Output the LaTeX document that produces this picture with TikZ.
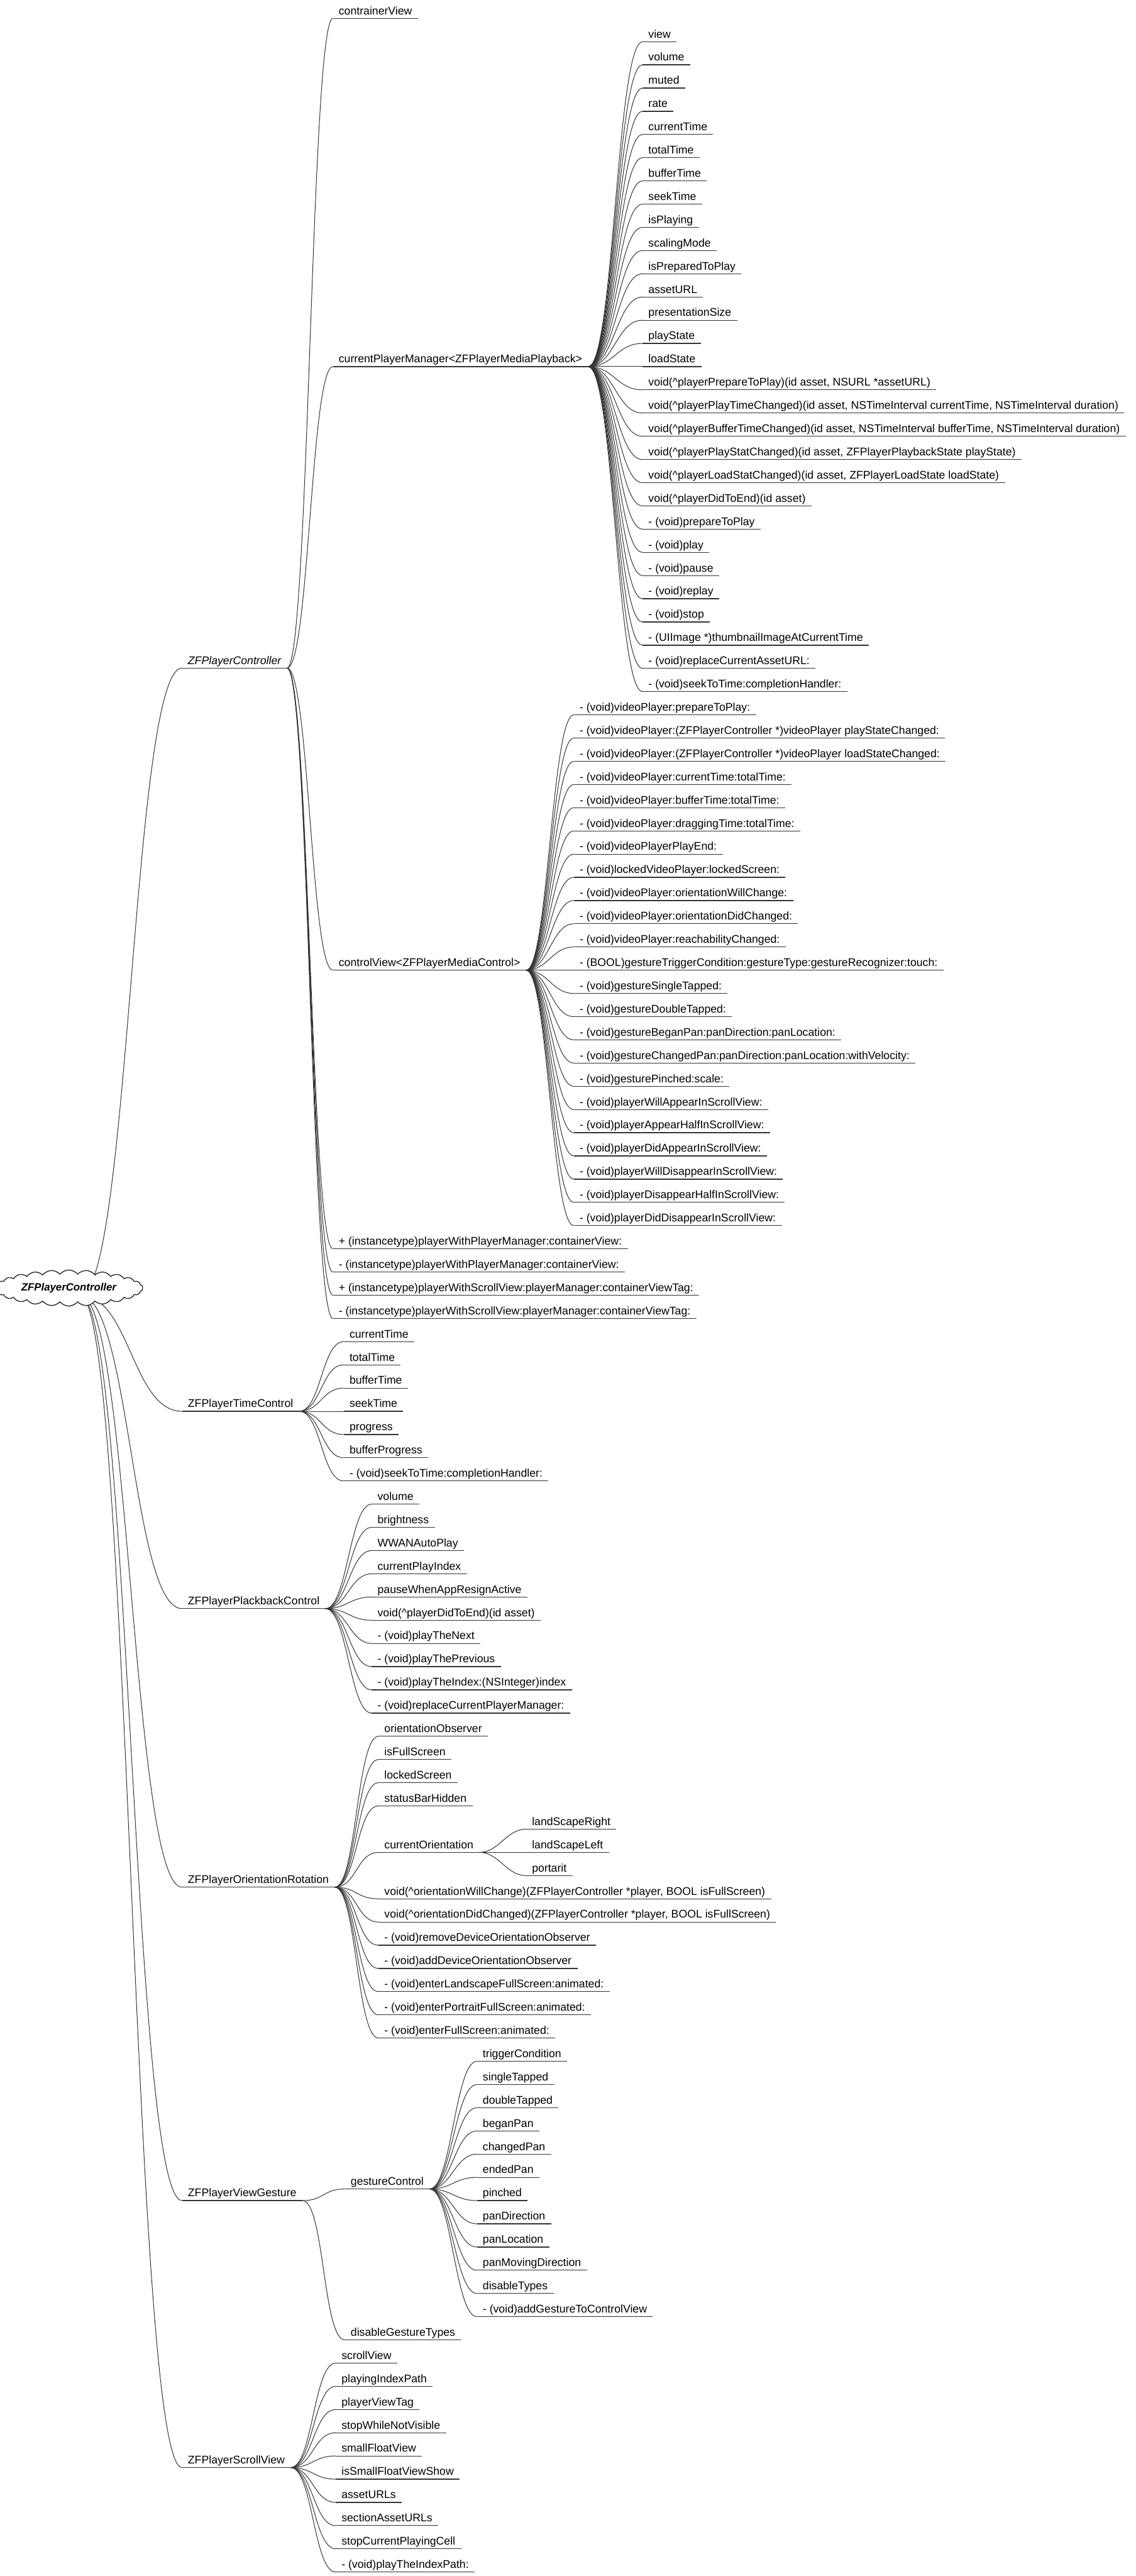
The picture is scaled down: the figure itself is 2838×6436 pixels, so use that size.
\documentclass[tikz,border=0pt]{standalone}
\usepackage{fontspec}
\setmainfont{Liberation Sans}
\usepackage{tikz}
\usetikzlibrary{shapes,positioning}

\begin{document}
\begin{tikzpicture}[
    x=0.01cm, y=-0.01cm,
    font=\fontsize{7.9}{9}\selectfont,
    leaf/.style={anchor=south west, inner xsep=0.14cm, inner ysep=0.09cm, text depth=0pt,
        append after command={(\tikzlastnode.south west) edge[uline] (\tikzlastnode.south east)}},
    uline/.style={draw=black!80, line width=0.55pt},
    twig/.style={draw=black!80, line width=0.45pt, to path={.. controls +(#1,0) and +(-#1,0) .. (\tikztotarget)}},
    twig/.default=55,
    root/.style={cloud, cloud puffs=26, cloud puff arc=100, cloud ignores aspect, draw=black!85, line width=0.6pt,
        fill=white, minimum width=3.25cm, minimum height=0.9cm, font=\fontsize{7.5}{9}\selectfont\bfseries\itshape}
]
    \useasboundingbox (0,0) rectangle (2838,6436);

    % first level
    \node[leaf, font=\fontsize{7.9}{9}\selectfont\itshape] (zfc) at (455,1669) {ZFPlayerController};
    \node[leaf] (timectl) at (455,3526) {ZFPlayerTimeControl};
    \node[leaf] (playback) at (455,4019) {ZFPlayerPlackbackControl};
    \node[leaf] (rotation) at (455,4715) {ZFPlayerOrientationRotation};
    \node[leaf] (gesture) at (455,5498) {ZFPlayerViewGesture};
    \node[leaf] (scroll) at (455,6165) {ZFPlayerScrollView};

    % ZFPlayerController
    \node[leaf] (container) at (832,46) {contrainerView};
    \node[leaf] (manager) at (832,916) {currentPlayerManager<ZFPlayerMediaPlayback>};
    \node[leaf] (control) at (832,2424) {controlView<ZFPlayerMediaControl>};
    \node[leaf] (init1) at (832,3120) {+ (instancetype)playerWithPlayerManager:containerView:};
    \node[leaf] (init2) at (832,3178) {- (instancetype)playerWithPlayerManager:containerView:};
    \node[leaf] (init3) at (832,3236) {+ (instancetype)playerWithScrollView:playerManager:containerViewTag:};
    \node[leaf] (init4) at (832,3294) {- (instancetype)playerWithScrollView:playerManager:containerViewTag:};

    % currentPlayerManager
    \node[leaf] (m1) at (1606,104) {view};
    \node[leaf] (m2) at (1606,162) {volume};
    \node[leaf] (m3) at (1606,220) {muted};
    \node[leaf] (m4) at (1606,278) {rate};
    \node[leaf] (m5) at (1606,336) {currentTime};
    \node[leaf] (m6) at (1606,394) {totalTime};
    \node[leaf] (m7) at (1606,452) {bufferTime};
    \node[leaf] (m8) at (1606,510) {seekTime};
    \node[leaf] (m9) at (1606,568) {isPlaying};
    \node[leaf] (m10) at (1606,626) {scalingMode};
    \node[leaf] (m11) at (1606,684) {isPreparedToPlay};
    \node[leaf] (m12) at (1606,742) {assetURL};
    \node[leaf] (m13) at (1606,800) {presentationSize};
    \node[leaf] (m14) at (1606,858) {playState};
    \node[leaf] (m15) at (1606,916) {loadState};
    \node[leaf] (m16) at (1606,974) {void(\textasciicircum playerPrepareToPlay)(id asset, NSURL *assetURL)};
    \node[leaf] (m17) at (1606,1032) {void(\textasciicircum playerPlayTimeChanged)(id asset, NSTimeInterval currentTime, NSTimeInterval duration)};
    \node[leaf] (m18) at (1606,1090) {void(\textasciicircum playerBufferTimeChanged)(id asset, NSTimeInterval bufferTime, NSTimeInterval duration)};
    \node[leaf] (m19) at (1606,1148) {void(\textasciicircum playerPlayStatChanged)(id asset, ZFPlayerPlaybackState playState)};
    \node[leaf] (m20) at (1606,1206) {void(\textasciicircum playerLoadStatChanged)(id asset, ZFPlayerLoadState loadState)};
    \node[leaf] (m21) at (1606,1264) {void(\textasciicircum playerDidToEnd)(id asset)};
    \node[leaf] (m22) at (1606,1322) {- (void)prepareToPlay};
    \node[leaf] (m23) at (1606,1380) {- (void)play};
    \node[leaf] (m24) at (1606,1438) {- (void)pause};
    \node[leaf] (m25) at (1606,1496) {- (void)replay};
    \node[leaf] (m26) at (1606,1554) {- (void)stop};
    \node[leaf] (m27) at (1606,1612) {- (UIImage *)thumbnailImageAtCurrentTime};
    \node[leaf] (m28) at (1606,1670) {- (void)replaceCurrentAssetURL:};
    \node[leaf] (m29) at (1606,1728) {- (void)seekToTime:completionHandler:};

    % controlView
    \node[leaf] (c1) at (1434,1786) {- (void)videoPlayer:prepareToPlay:};
    \node[leaf] (c2) at (1434,1844) {- (void)videoPlayer:(ZFPlayerController *)videoPlayer playStateChanged:};
    \node[leaf] (c3) at (1434,1902) {- (void)videoPlayer:(ZFPlayerController *)videoPlayer loadStateChanged:};
    \node[leaf] (c4) at (1434,1960) {- (void)videoPlayer:currentTime:totalTime:};
    \node[leaf] (c5) at (1434,2018) {- (void)videoPlayer:bufferTime:totalTime:};
    \node[leaf] (c6) at (1434,2076) {- (void)videoPlayer:draggingTime:totalTime:};
    \node[leaf] (c7) at (1434,2134) {- (void)videoPlayerPlayEnd:};
    \node[leaf] (c8) at (1434,2192) {- (void)lockedVideoPlayer:lockedScreen:};
    \node[leaf] (c9) at (1434,2250) {- (void)videoPlayer:orientationWillChange:};
    \node[leaf] (c10) at (1434,2308) {- (void)videoPlayer:orientationDidChanged:};
    \node[leaf] (c11) at (1434,2366) {- (void)videoPlayer:reachabilityChanged:};
    \node[leaf] (c12) at (1434,2424) {- (BOOL)gestureTriggerCondition:gestureType:gestureRecognizer:touch:};
    \node[leaf] (c13) at (1434,2482) {- (void)gestureSingleTapped:};
    \node[leaf] (c14) at (1434,2540) {- (void)gestureDoubleTapped:};
    \node[leaf] (c15) at (1434,2598) {- (void)gestureBeganPan:panDirection:panLocation:};
    \node[leaf] (c16) at (1434,2656) {- (void)gestureChangedPan:panDirection:panLocation:withVelocity:};
    \node[leaf] (c17) at (1434,2714) {- (void)gesturePinched:scale:};
    \node[leaf] (c18) at (1434,2772) {- (void)playerWillAppearInScrollView:};
    \node[leaf] (c19) at (1434,2830) {- (void)playerAppearHalfInScrollView:};
    \node[leaf] (c20) at (1434,2888) {- (void)playerDidAppearInScrollView:};
    \node[leaf] (c21) at (1434,2946) {- (void)playerWillDisappearInScrollView:};
    \node[leaf] (c22) at (1434,3004) {- (void)playerDisappearHalfInScrollView:};
    \node[leaf] (c23) at (1434,3062) {- (void)playerDidDisappearInScrollView:};

    % ZFPlayerTimeControl
    \node[leaf] (t1) at (859,3352) {currentTime};
    \node[leaf] (t2) at (859,3410) {totalTime};
    \node[leaf] (t3) at (859,3468) {bufferTime};
    \node[leaf] (t4) at (859,3526) {seekTime};
    \node[leaf] (t5) at (859,3584) {progress};
    \node[leaf] (t6) at (859,3642) {bufferProgress};
    \node[leaf] (t7) at (859,3700) {- (void)seekToTime:completionHandler:};

    % ZFPlayerPlackbackControl
    \node[leaf] (p1) at (929,3758) {volume};
    \node[leaf] (p2) at (929,3816) {brightness};
    \node[leaf] (p3) at (929,3874) {WWANAutoPlay};
    \node[leaf] (p4) at (929,3932) {currentPlayIndex};
    \node[leaf] (p5) at (929,3990) {pauseWhenAppResignActive};
    \node[leaf] (p6) at (929,4048) {void(\textasciicircum playerDidToEnd)(id asset)};
    \node[leaf] (p7) at (929,4106) {- (void)playTheNext};
    \node[leaf] (p8) at (929,4164) {- (void)playThePrevious};
    \node[leaf] (p9) at (929,4222) {- (void)playTheIndex:(NSInteger)index};
    \node[leaf] (p10) at (929,4280) {- (void)replaceCurrentPlayerManager:};

    % ZFPlayerOrientationRotation
    \node[leaf] (r1) at (946,4338) {orientationObserver};
    \node[leaf] (r2) at (946,4396) {isFullScreen};
    \node[leaf] (r3) at (946,4454) {lockedScreen};
    \node[leaf] (r4) at (946,4512) {statusBarHidden};
    \node[leaf] (orient) at (946,4628) {currentOrientation};
    \node[leaf] (r6) at (946,4744) {void(\textasciicircum orientationWillChange)(ZFPlayerController *player, BOOL isFullScreen)};
    \node[leaf] (r7) at (946,4802) {void(\textasciicircum orientationDidChanged)(ZFPlayerController *player, BOOL isFullScreen)};
    \node[leaf] (r8) at (946,4860) {- (void)removeDeviceOrientationObserver};
    \node[leaf] (r9) at (946,4918) {- (void)addDeviceOrientationObserver};
    \node[leaf] (r10) at (946,4976) {- (void)enterLandscapeFullScreen:animated:};
    \node[leaf] (r11) at (946,5034) {- (void)enterPortraitFullScreen:animated:};
    \node[leaf] (r12) at (946,5092) {- (void)enterFullScreen:animated:};
    \node[leaf] (o1) at (1315,4570) {landScapeRight};
    \node[leaf] (o2) at (1315,4628) {landScapeLeft};
    \node[leaf] (o3) at (1315,4686) {portarit};

    % ZFPlayerViewGesture
    \node[leaf] (gctl) at (862,5469) {gestureControl};
    \node[leaf] (gtypes) at (862,5846) {disableGestureTypes};
    \node[leaf] (g1) at (1192,5150) {triggerCondition};
    \node[leaf] (g2) at (1192,5208) {singleTapped};
    \node[leaf] (g3) at (1192,5266) {doubleTapped};
    \node[leaf] (g4) at (1192,5324) {beganPan};
    \node[leaf] (g5) at (1192,5382) {changedPan};
    \node[leaf] (g6) at (1192,5440) {endedPan};
    \node[leaf] (g7) at (1192,5498) {pinched};
    \node[leaf] (g8) at (1192,5556) {panDirection};
    \node[leaf] (g9) at (1192,5614) {panLocation};
    \node[leaf] (g10) at (1192,5672) {panMovingDirection};
    \node[leaf] (g11) at (1192,5730) {disableTypes};
    \node[leaf] (g12) at (1192,5788) {- (void)addGestureToControlView};

    % ZFPlayerScrollView
    \node[leaf] (s1) at (839,5904) {scrollView};
    \node[leaf] (s2) at (839,5962) {playingIndexPath};
    \node[leaf] (s3) at (839,6020) {playerViewTag};
    \node[leaf] (s4) at (839,6078) {stopWhileNotVisible};
    \node[leaf] (s5) at (839,6136) {smallFloatView};
    \node[leaf] (s6) at (839,6194) {isSmallFloatViewShow};
    \node[leaf] (s7) at (839,6252) {assetURLs};
    \node[leaf] (s8) at (839,6310) {sectionAssetURLs};
    \node[leaf] (s9) at (839,6368) {stopCurrentPlayingCell};
    \node[leaf] (s10) at (839,6426) {- (void)playTheIndexPath:};

    % branches
    \coordinate (hub) at (200,3236);
    \draw[twig=125] (hub) edge (zfc.south west) edge (timectl.south west) edge (playback.south west)
        edge (rotation.south west) edge (gesture.south west) edge (scroll.south west);
    \draw[twig] (zfc.south east) edge (container.south west) edge (manager.south west) edge (control.south west)
        edge (init1.south west) edge (init2.south west) edge (init3.south west) edge (init4.south west);
    \draw[twig=65] (manager.south east) edge (m1.south west) edge (m2.south west) edge (m3.south west)
        edge (m4.south west) edge (m5.south west) edge (m6.south west) edge (m7.south west)
        edge (m8.south west) edge (m9.south west) edge (m10.south west) edge (m11.south west)
        edge (m12.south west) edge (m13.south west) edge (m14.south west) edge (m15.south west)
        edge (m16.south west) edge (m17.south west) edge (m18.south west) edge (m19.south west)
        edge (m20.south west) edge (m21.south west) edge (m22.south west) edge (m23.south west)
        edge (m24.south west) edge (m25.south west) edge (m26.south west) edge (m27.south west)
        edge (m28.south west) edge (m29.south west);
    \draw[twig] (control.south east) edge (c1.south west) edge (c2.south west) edge (c3.south west)
        edge (c4.south west) edge (c5.south west) edge (c6.south west) edge (c7.south west)
        edge (c8.south west) edge (c9.south west) edge (c10.south west) edge (c11.south west)
        edge (c12.south west) edge (c13.south west) edge (c14.south west) edge (c15.south west)
        edge (c16.south west) edge (c17.south west) edge (c18.south west) edge (c19.south west)
        edge (c20.south west) edge (c21.south west) edge (c22.south west) edge (c23.south west);
    \draw[twig] (timectl.south east) edge (t1.south west) edge (t2.south west) edge (t3.south west)
        edge (t4.south west) edge (t5.south west) edge (t6.south west) edge (t7.south west);
    \draw[twig] (playback.south east) edge (p1.south west) edge (p2.south west) edge (p3.south west)
        edge (p4.south west) edge (p5.south west) edge (p6.south west) edge (p7.south west)
        edge (p8.south west) edge (p9.south west) edge (p10.south west);
    \draw[twig] (rotation.south east) edge (r1.south west) edge (r2.south west) edge (r3.south west)
        edge (r4.south west) edge (orient.south west) edge (r6.south west) edge (r7.south west)
        edge (r8.south west) edge (r9.south west) edge (r10.south west) edge (r11.south west)
        edge (r12.south west);
    \draw[twig=50] (orient.south east) edge (o1.south west) edge (o2.south west) edge (o3.south west);
    \draw[twig] (gesture.south east) edge (gctl.south west) edge (gtypes.south west);
    \draw[twig] (gctl.south east) edge (g1.south west) edge (g2.south west) edge (g3.south west)
        edge (g4.south west) edge (g5.south west) edge (g6.south west) edge (g7.south west)
        edge (g8.south west) edge (g9.south west) edge (g10.south west) edge (g11.south west)
        edge (g12.south west);
    \draw[twig] (scroll.south east) edge (s1.south west) edge (s2.south west) edge (s3.south west)
        edge (s4.south west) edge (s5.south west) edge (s6.south west) edge (s7.south west)
        edge (s8.south west) edge (s9.south west) edge (s10.south west);

    % root on top of its branches
    \node[root] (main) at (172,3218) {ZFPlayerController};
\end{tikzpicture}
\end{document}
